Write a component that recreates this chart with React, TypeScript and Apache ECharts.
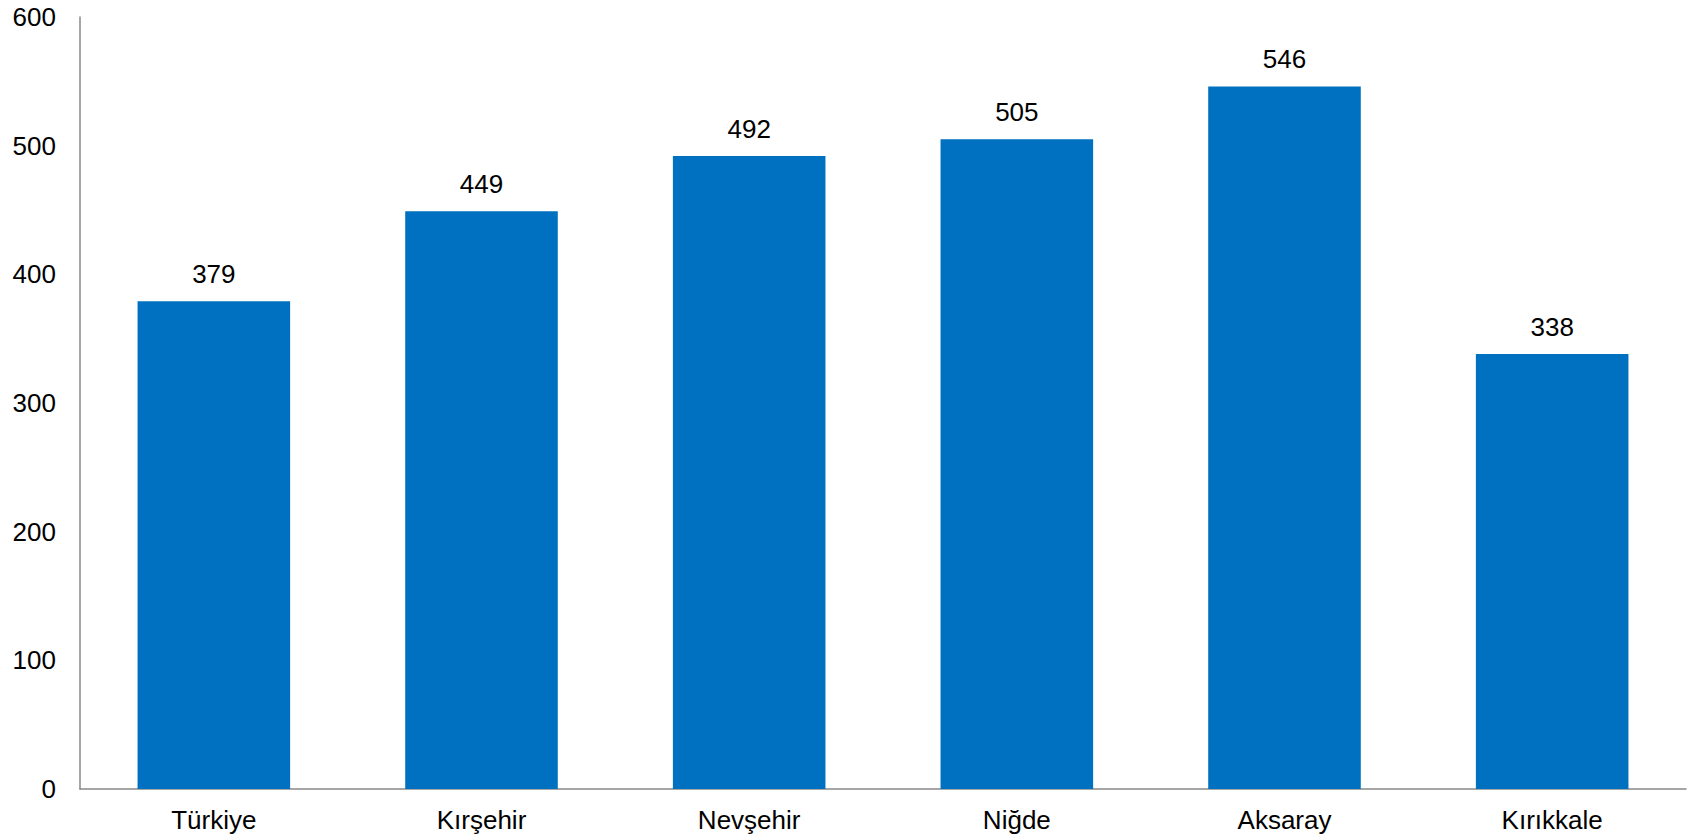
import React, { useEffect, useRef } from "react";
import * as echarts from "echarts";

const categories = ["Türkiye", "Kırşehir", "Nevşehir", "Niğde", "Aksaray", "Kırıkkale"];
const values = [379, 449, 492, 505, 546, 338];
const yTicks = { min: 0, max: 600, interval: 100 };

export default function App() {
  const ref = useRef<HTMLDivElement>(null);
  useEffect(() => {
    if (!ref.current) return;
    const chart = echarts.init(ref.current, undefined, { renderer: "svg" });
    const font = "Liberation Sans, Arial, sans-serif";
    chart.setOption({
      animation: false,
      grid: { left: 80, right: 5, top: 17, bottom: 49, containLabel: false },
      xAxis: {
        type: "category",
        data: categories,
        axisLine: { show: true, lineStyle: { color: "#898989", width: 1.5 } },
        axisTick: { show: false },
        axisLabel: { color: "#000", fontSize: 26, fontFamily: font, margin: 18 },
      },
      yAxis: {
        type: "value",
        min: yTicks.min,
        max: yTicks.max,
        interval: yTicks.interval,
        axisLine: { show: true, lineStyle: { color: "#898989", width: 1.5 } },
        axisTick: { show: false },
        splitLine: { show: false },
        axisLabel: { color: "#000", fontSize: 26, fontFamily: font, margin: 24 },
      },
      series: [
        {
          type: "bar",
          data: values,
          barWidth: "57%",
          itemStyle: { color: "#0070C0" },
          label: {
            show: true,
            position: "top",
            distance: 14,
            color: "#000",
            fontSize: 26,
            fontFamily: font,
          },
        },
      ],
    });
    return () => chart.dispose();
  }, []);
  return (
    <div
      ref={ref}
      style={{ position: "absolute", left: 0, top: 0, width: 1691, height: 838 }}
    />
  );
}
